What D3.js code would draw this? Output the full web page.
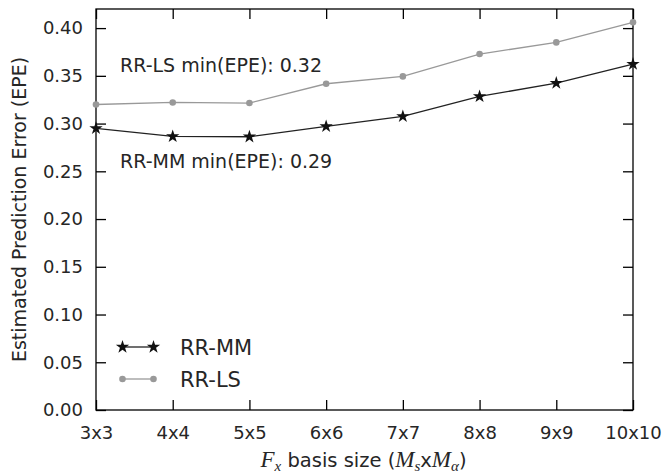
<!DOCTYPE html>
<html><head><meta charset="utf-8">
<script src="https://cdn.jsdelivr.net/npm/d3@7"></script>
<style>body{margin:0;background:#fff}svg{display:block}</style>
</head><body>
<svg id="c" width="665" height="474"></svg>
<script>
const categories = ["3x3","4x4","5x5","6x6","7x7","8x8","9x9","10x10"];
const rrMM = [0.295, 0.2865, 0.2862, 0.297, 0.3075, 0.3284, 0.3424, 0.3623];
const rrLS = [0.320, 0.3221, 0.3215, 0.3417, 0.3494, 0.3728, 0.3850, 0.4060];
const yTicks = [0.00,0.05,0.10,0.15,0.20,0.25,0.30,0.35,0.40];
const annotations = ["RR-LS min(EPE): 0.32", "RR-MM min(EPE): 0.29"];

const svg = d3.select("#c");
const L = 96, T = 9, R = 633, B = 410;
const x = d3.scalePoint().domain(categories).range([L, R]);
const y = d3.scaleLinear().domain([0, 0.42]).range([B, T]);
const font = "DejaVu Sans";
const tc = "#262626";

// frame
svg.append("rect").attr("x", L).attr("y", T).attr("width", R-L).attr("height", B-T)
  .attr("fill", "none").attr("stroke", "#000").attr("stroke-width", 1.3);

const tl = 10;
const gx = svg.append("g").attr("transform", `translate(0,${B})`)
  .call(d3.axisBottom(x).tickSizeInner(-tl).tickSizeOuter(0).tickPadding(16));
const gxt = svg.append("g").attr("transform", `translate(0,${T})`)
  .call(d3.axisTop(x).tickSizeInner(-tl).tickSizeOuter(0).tickFormat(""));
const gy = svg.append("g").attr("transform", `translate(${L},0)`)
  .call(d3.axisLeft(y).tickValues(yTicks).tickFormat(d3.format(".2f")).tickSizeInner(-tl).tickSizeOuter(0).tickPadding(13));
const gyr = svg.append("g").attr("transform", `translate(${R},0)`)
  .call(d3.axisRight(y).tickValues(yTicks).tickSizeInner(-tl).tickSizeOuter(0).tickFormat(""));
[gx,gxt,gy,gyr].forEach(g => {
  g.select(".domain").remove();
  g.selectAll("line").attr("stroke", "#000").attr("stroke-width", 1.3);
  g.selectAll("text").attr("font-family", font).attr("font-size", 18).attr("fill", tc);
});
gx.selectAll("text").attr("dy", "0.71em");

// lines
const lineGen = d3.line().x((d,i) => x(categories[i])).y(d => y(d));
svg.append("path").datum(rrLS).attr("d", lineGen).attr("fill","none").attr("stroke","#999").attr("stroke-width",1.3);
svg.append("path").datum(rrMM).attr("d", lineGen).attr("fill","none").attr("stroke","#222").attr("stroke-width",1.3);

svg.selectAll(".ls").data(rrLS).enter().append("circle")
  .attr("cx", (d,i) => x(categories[i])).attr("cy", d => y(d)).attr("r", 3.3).attr("fill", "#999");
const star = d3.symbol().type(d3.symbolStar).size(55);
svg.selectAll(".mm").data(rrMM).enter().append("path")
  .attr("d", star).attr("transform", (d,i) => `translate(${x(categories[i])},${y(d)})`).attr("fill", "#111");

// annotations
svg.append("text").attr("x", 120).attr("y", 72).text(annotations[0])
  .attr("font-family", font).attr("font-size", 19).attr("fill", tc);
svg.append("text").attr("x", 120).attr("y", 168).text(annotations[1])
  .attr("font-family", font).attr("font-size", 19).attr("fill", tc);

// legend
const leg = [{name:"RR-MM", color:"#222", mk:"star", y:347},{name:"RR-LS", color:"#999", mk:"circle", y:379}];
leg.forEach(l => {
  svg.append("line").attr("x1", 122.5).attr("x2", 153.5).attr("y1", l.y).attr("y2", l.y)
    .attr("stroke", l.color).attr("stroke-width", 1.3);
  [122.5, 153.5].forEach(px => {
    if (l.mk === "star") svg.append("path").attr("d", star).attr("transform", `translate(${px},${l.y})`).attr("fill", "#111");
    else svg.append("circle").attr("cx", px).attr("cy", l.y).attr("r", 3.3).attr("fill", l.color);
  });
  svg.append("text").attr("x", 180).attr("y", l.y + 7.5).text(l.name)
    .attr("font-family", font).attr("font-size", 21).attr("fill", tc);
});

// y label
svg.append("text").attr("transform", `translate(26,${(T+B)/2}) rotate(-90)`)
  .attr("text-anchor", "middle").attr("font-family", font).attr("font-size", 19).attr("fill", tc)
  .text("Estimated Prediction Error (EPE)");

// x label
const xl = svg.append("text").attr("x", (L+R)/2 - 1).attr("y", 467).attr("text-anchor", "middle")
  .attr("font-family", font).attr("font-size", 19.5).attr("fill", tc);
const mi = "Liberation Serif";
xl.append("tspan").attr("font-family", mi).attr("font-style", "italic").attr("font-size", 23).text("F");
xl.append("tspan").attr("font-family", mi).attr("font-style", "italic").attr("font-size", 15).attr("dy", 4).text("x");
xl.append("tspan").attr("dy", -4).text(" basis size (");
xl.append("tspan").attr("font-family", mi).attr("font-style", "italic").attr("font-size", 23).text("M");
xl.append("tspan").attr("font-family", mi).attr("font-style", "italic").attr("font-size", 15).attr("dy", 4).text("s");
xl.append("tspan").attr("dy", -4).text("x");
xl.append("tspan").attr("font-family", mi).attr("font-style", "italic").attr("font-size", 23).text("M");
xl.append("tspan").attr("font-family", mi).attr("font-style", "italic").attr("font-size", 15).attr("dy", 4).text("α");
xl.append("tspan").attr("dy", -4).text(")");
</script>
</body></html>
